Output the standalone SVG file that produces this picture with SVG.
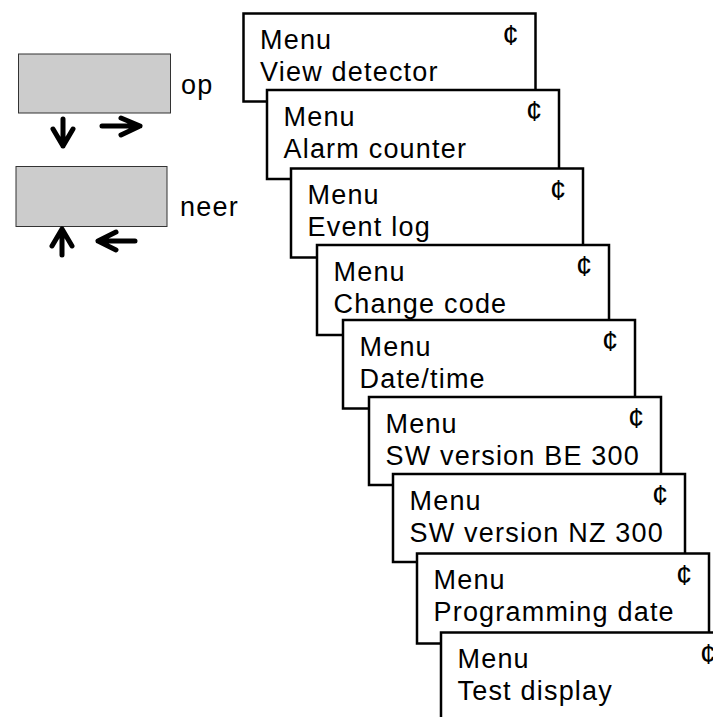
<svg xmlns="http://www.w3.org/2000/svg" width="713" height="717" viewBox="0 0 713 717">
<style>
.bg{fill:#ffffff}
.scr{fill:#ffffff;stroke:#000000;stroke-width:2.5}
.key{fill:#cccccc;stroke:#333333;stroke-width:1}
.t{font-family:"Liberation Sans",Arial,sans-serif;font-size:27px;letter-spacing:1.2px;fill:#000000}
.c{font-family:"Liberation Sans",Arial,sans-serif;font-size:29px;fill:#000000}
.arr{fill:none;stroke:#000000;stroke-width:5;stroke-linecap:round;stroke-linejoin:round}
</style>
<rect class="bg" x="0" y="0" width="713" height="717"/>
<g id="key-op">
<rect class="key" x="18.5" y="54" width="152" height="59"/>
<text class="t" x="181" y="94">op</text>
</g>
<g id="key-neer">
<rect class="key" x="16" y="166.5" width="151" height="60"/>
<text class="t" x="180" y="216">neer</text>
</g>
<g id="connectors">
<path class="arr" d="M63 119 V146 M53 129 L63 146 L73 129"/>
<path class="arr" d="M102 126 H140 M121 118 L140 126 L121 135"/>
<path class="arr" d="M62 255 V229 M52 246 L62 229 L72 246"/>
<path class="arr" d="M135 241 H98 M116 232 L98 241 L116 250"/>
</g>
<g id="menu-view-detector" transform="translate(243.5,13.5)">
<rect class="scr" width="292" height="88"/>
<text class="t" x="16.5" y="35.5">Menu</text><text class="t" x="16.5" y="67.5">View detector</text>
<text class="c" x="259" y="31">¢</text>
</g>
<g id="menu-alarm-counter" transform="translate(267,90)">
<rect class="scr" width="292" height="89"/>
<text class="t" x="16.5" y="35.5">Menu</text><text class="t" x="16.5" y="67.5">Alarm counter</text>
<text class="c" x="259" y="31">¢</text>
</g>
<g id="menu-event-log" transform="translate(291,168.5)">
<rect class="scr" width="292" height="89"/>
<text class="t" x="16.5" y="35.5">Menu</text><text class="t" x="16.5" y="67.5">Event log</text>
<text class="c" x="259" y="31">¢</text>
</g>
<g id="menu-change-code" transform="translate(317,245)">
<rect class="scr" width="292" height="90"/>
<text class="t" x="16.5" y="35.5">Menu</text><text class="t" x="16.5" y="67.5">Change code</text>
<text class="c" x="259" y="31">¢</text>
</g>
<g id="menu-date-time" transform="translate(343,320)">
<rect class="scr" width="292" height="88.5"/>
<text class="t" x="16.5" y="35.5">Menu</text><text class="t" x="16.5" y="67.5">Date/time</text>
<text class="c" x="259" y="31">¢</text>
</g>
<g id="menu-sw-be" transform="translate(369,397)">
<rect class="scr" width="292" height="88"/>
<text class="t" x="16.5" y="35.5">Menu</text><text class="t" x="16.5" y="67.5">SW version BE 300</text>
<text class="c" x="259" y="31">¢</text>
</g>
<g id="menu-sw-nz" transform="translate(393,474)">
<rect class="scr" width="292" height="88"/>
<text class="t" x="16.5" y="35.5">Menu</text><text class="t" x="16.5" y="67.5">SW version NZ 300</text>
<text class="c" x="259" y="31">¢</text>
</g>
<g id="menu-programming-date" transform="translate(417,553.5)">
<rect class="scr" width="292" height="90"/>
<text class="t" x="16.5" y="35.5">Menu</text><text class="t" x="16.5" y="67.5">Programming date</text>
<text class="c" x="259" y="31">¢</text>
</g>
<g id="menu-test-display" transform="translate(441,632.5)">
<rect class="scr" width="292" height="89"/>
<text class="t" x="16.5" y="35.5">Menu</text><text class="t" x="16.5" y="67.5">Test display</text>
<text class="c" x="259" y="31">¢</text>
</g>
</svg>
